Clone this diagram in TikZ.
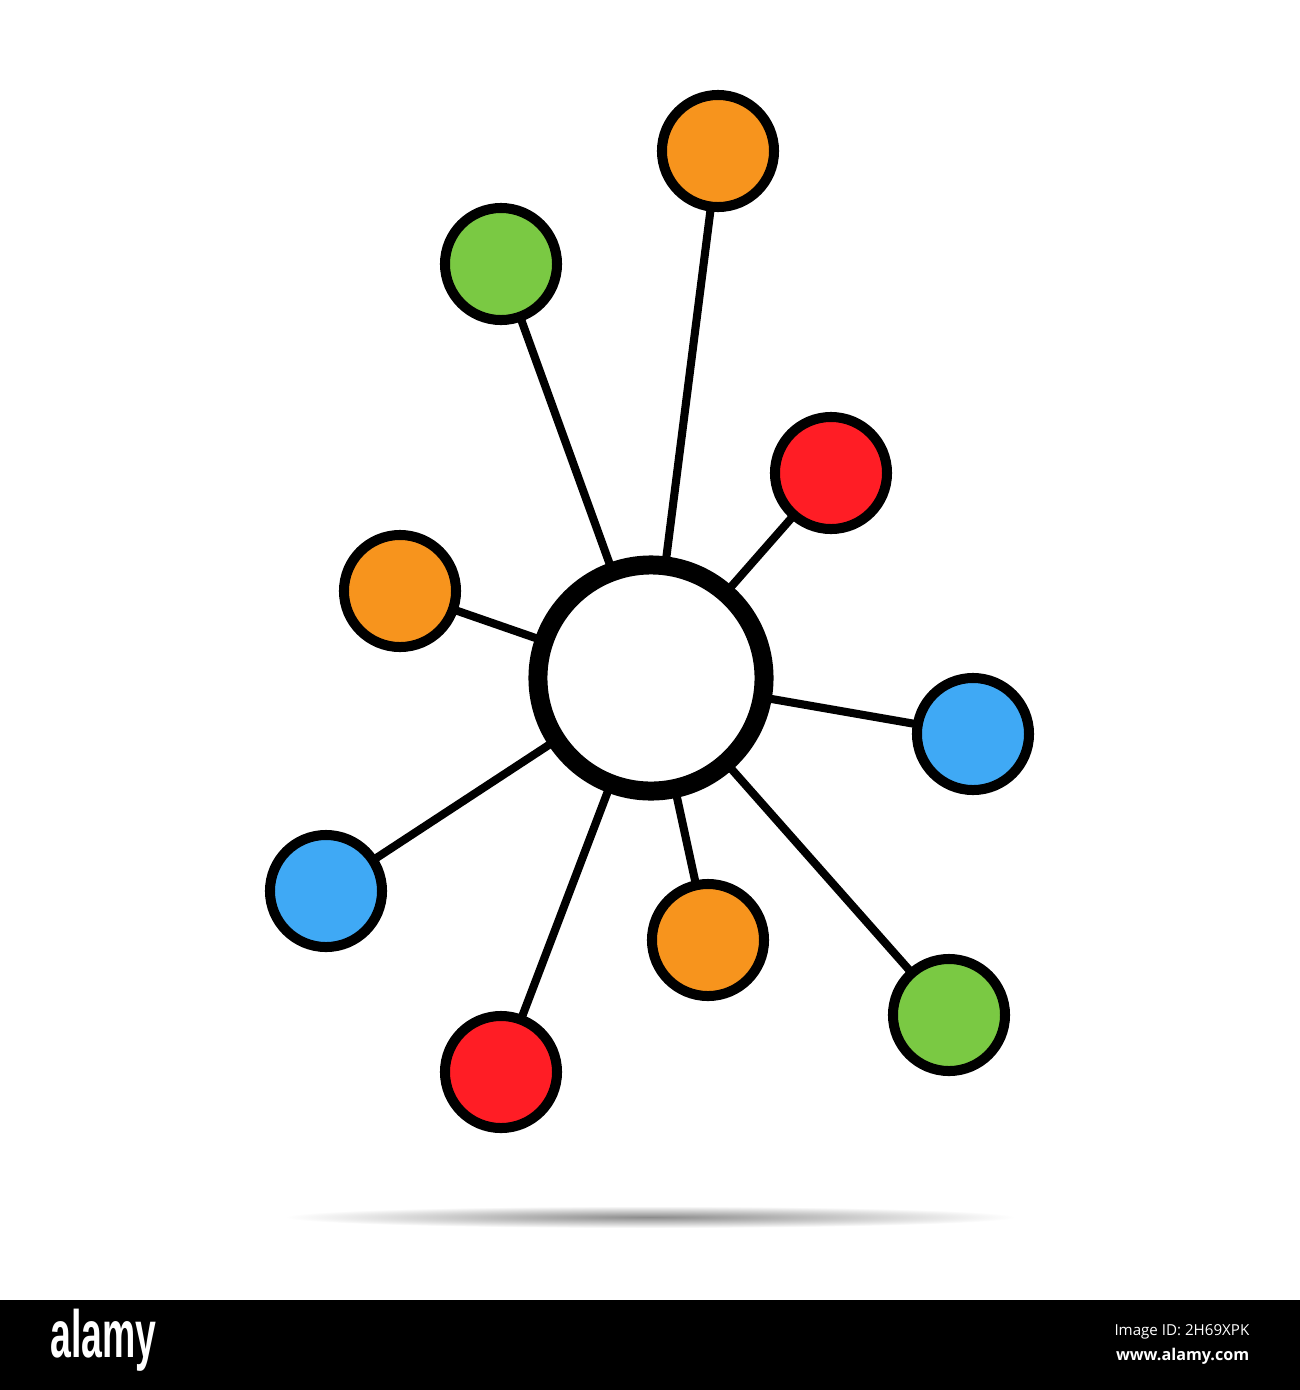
\documentclass[tikz,border=0pt]{standalone}
\usepackage{fontspec}
\setmainfont{Open Sans}
\newfontfamily\logofont{Liberation Sans}
\usetikzlibrary{backgrounds}
\definecolor{cOrange}{HTML}{F7941D}
\definecolor{cGreen}{HTML}{7AC943}
\definecolor{cRed}{HTML}{FF1D25}
\definecolor{cBlue}{HTML}{3FA9F5}
\tikzset{
  leaf/.style={circle, draw=black, line width=2.85pt, minimum size=1.12cm, inner sep=0pt},
  hub/.style={circle, draw=black, fill=white, line width=5.4pt, minimum size=2.26cm, inner sep=0pt},
  link/.style={draw=black, line width=2.3pt}
}
\begin{document}
\begin{tikzpicture}[x=0.01cm,y=-0.01cm]
\useasboundingbox (0,0) rectangle (1300,1390);
% hub and leaves
\node[hub] (c) at (651,678) {};
\node[leaf, fill=cOrange] (n1) at (718,151) {};
\node[leaf, fill=cGreen]  (n2) at (501,264) {};
\node[leaf, fill=cRed]    (n3) at (831,473) {};
\node[leaf, fill=cOrange] (n4) at (400,591) {};
\node[leaf, fill=cBlue]   (n5) at (973,734) {};
\node[leaf, fill=cBlue]   (n6) at (326,891) {};
\node[leaf, fill=cOrange] (n7) at (708,940) {};
\node[leaf, fill=cGreen]  (n8) at (949,1015) {};
\node[leaf, fill=cRed]    (n9) at (501,1072) {};
\begin{scope}[on background layer]
  \fill[white] (0,0) rectangle (1300,1390);
  \shade[inner color=black!45, outer color=white] (650,1217) ellipse (365 and 11);
  \foreach \n in {n1,n2,n3,n4,n5,n6,n7,n8,n9}
    \draw[link] (c.center) -- (\n.center);
\end{scope}
% bottom bar
\fill[black] (0,1300) rectangle (1300,1390);
\node[anchor=west, inner sep=0pt, text=white, font=\logofont\bfseries\fontsize{19pt}{19pt}\selectfont] (logo) at (50,1340) {\scalebox{0.56}[1]{alamy}};
\node[anchor=east, inner sep=0pt, text=white, font=\fontsize{4.3pt}{5pt}\selectfont] (imgid) at (1250,1332) {Image ID: 2H69XPK};
\node[anchor=east, inner sep=0pt, text=white, font=\bfseries\fontsize{4.6pt}{5pt}\selectfont] (www) at (1250,1356) {www.alamy.com};
\end{tikzpicture}
\end{document}
